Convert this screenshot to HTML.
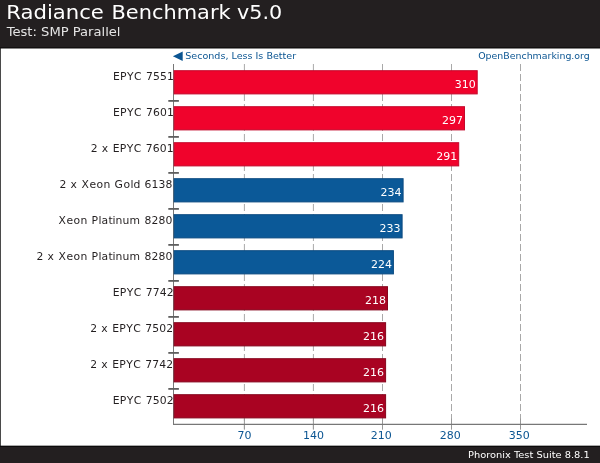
<!DOCTYPE html>
<html><head><meta charset="utf-8"><title>Radiance Benchmark v5.0</title>
<style>
html,body{margin:0;padding:0;background:#fff;}
svg{display:block;font-family:"DejaVu Sans","Liberation Sans",sans-serif;}
</style></head><body>
<svg width="600" height="463" viewBox="0 0 600 463">
<rect x="0" y="0" width="600" height="463" fill="#ffffff"/>
<rect x="0" y="0" width="1" height="463" fill="#4a4a4a"/>
<rect x="0" y="0" width="600" height="48" fill="#231f20"/>
<rect x="0" y="47.3" width="600" height="1.2" fill="#0c0a0b"/>
<rect x="0" y="445.8" width="600" height="17.2" fill="#231f20"/>
<rect x="0" y="445.8" width="600" height="1.2" fill="#0c0a0b"/>
<text y="18.9" font-size="20.2" fill="#ffffff"><tspan x="6.2" textLength="97.7" lengthAdjust="spacingAndGlyphs">Radiance</tspan> <tspan x="111.5" textLength="119.1" lengthAdjust="spacingAndGlyphs">Benchmark</tspan> <tspan x="237" textLength="45.2" lengthAdjust="spacingAndGlyphs">v5.0</tspan></text>
<text x="6.7" y="36" font-size="12.3" fill="#e4e4e4" textLength="113.8" lengthAdjust="spacingAndGlyphs">Test: SMP Parallel</text>
<text x="468" y="458" font-size="9.4" fill="#ffffff" textLength="121.7" lengthAdjust="spacingAndGlyphs">Phoronix Test Suite 8.8.1</text>
<polygon points="172.9,56.2 182.7,51.5 182.7,60.9" fill="#0b5592"/>
<text x="185.2" y="58.8" font-size="9.3" fill="#0b5592" textLength="111" lengthAdjust="spacingAndGlyphs">Seconds, Less Is Better</text>
<text x="478.2" y="58.9" font-size="9.3" fill="#0b5592" textLength="111.6" lengthAdjust="spacingAndGlyphs">OpenBenchmarking.org</text>
<line x1="244.4" y1="64" x2="244.4" y2="429.4" stroke="#a9a9a9" stroke-width="1" stroke-dasharray="7,3"/>
<line x1="244.4" y1="418.5" x2="244.4" y2="429.5" stroke="#999999" stroke-width="1"/>
<text x="237.4" y="438.6" font-size="10.2" fill="#0b5592" textLength="14" lengthAdjust="spacingAndGlyphs">70</text>
<line x1="313.4" y1="64" x2="313.4" y2="429.4" stroke="#a9a9a9" stroke-width="1" stroke-dasharray="7,3"/>
<line x1="313.4" y1="418.5" x2="313.4" y2="429.5" stroke="#999999" stroke-width="1"/>
<text x="302.9" y="438.6" font-size="10.2" fill="#0b5592" textLength="21" lengthAdjust="spacingAndGlyphs">140</text>
<line x1="382.5" y1="64" x2="382.5" y2="429.4" stroke="#a9a9a9" stroke-width="1" stroke-dasharray="7,3"/>
<line x1="382.5" y1="418.5" x2="382.5" y2="429.5" stroke="#999999" stroke-width="1"/>
<text x="370.8" y="438.6" font-size="10.2" fill="#0b5592" textLength="21" lengthAdjust="spacingAndGlyphs">210</text>
<line x1="451.5" y1="64" x2="451.5" y2="429.4" stroke="#a9a9a9" stroke-width="1" stroke-dasharray="7,3"/>
<line x1="451.5" y1="418.5" x2="451.5" y2="429.5" stroke="#999999" stroke-width="1"/>
<text x="439.8" y="438.6" font-size="10.2" fill="#0b5592" textLength="21" lengthAdjust="spacingAndGlyphs">280</text>
<line x1="520.5" y1="64" x2="520.5" y2="429.4" stroke="#a9a9a9" stroke-width="1" stroke-dasharray="7,3"/>
<line x1="520.5" y1="418.5" x2="520.5" y2="429.5" stroke="#999999" stroke-width="1"/>
<text x="508.8" y="438.6" font-size="10.2" fill="#0b5592" textLength="21" lengthAdjust="spacingAndGlyphs">350</text>
<line x1="173.5" y1="64" x2="173.5" y2="424.5" stroke="#777777" stroke-width="1"/>
<line x1="173" y1="424.4" x2="587" y2="424.4" stroke="#777777" stroke-width="1.2"/>
<rect x="174.1" y="70.7" width="303.1" height="23.2" fill="#F0032C" stroke="#C4092C" stroke-width="1"/>
<text x="113.1 120.1 127.1 134.1 142.1 146.1 153.1 160.1 167.1" y="79.8" font-size="10.8" fill="#231f20">EPYC 7551</text>
<text x="454.7" y="87.6" font-size="10.2" fill="#ffffff" textLength="21" lengthAdjust="spacingAndGlyphs">310</text>
<line x1="168.3" y1="100.9" x2="178.9" y2="100.9" stroke="#5f5f5f" stroke-width="1.8"/>
<rect x="174.1" y="106.7" width="290.4" height="23.2" fill="#F0032C" stroke="#C4092C" stroke-width="1"/>
<text x="113.1 120.1 127.1 134.1 142.1 146.1 153.1 160.1 167.1" y="115.8" font-size="10.8" fill="#231f20">EPYC 7601</text>
<text x="442.0" y="123.6" font-size="10.2" fill="#ffffff" textLength="21" lengthAdjust="spacingAndGlyphs">297</text>
<line x1="168.3" y1="136.9" x2="178.9" y2="136.9" stroke="#5f5f5f" stroke-width="1.8"/>
<rect x="174.1" y="142.7" width="284.6" height="23.2" fill="#F0032C" stroke="#C4092C" stroke-width="1"/>
<text x="90.7 97.7 101.7 108.7 112.7 119.7 126.7 133.7 141.7 145.7 152.7 159.7 166.7" y="151.8" font-size="10.8" fill="#231f20">2 x EPYC 7601</text>
<text x="436.2" y="159.6" font-size="10.2" fill="#ffffff" textLength="21" lengthAdjust="spacingAndGlyphs">291</text>
<line x1="168.3" y1="172.9" x2="178.9" y2="172.9" stroke="#5f5f5f" stroke-width="1.8"/>
<rect x="174.1" y="178.7" width="229.0" height="23.2" fill="#0B5998" stroke="#0A4A80" stroke-width="1"/>
<text x="59.4 66.4 70.4 77.4 81.4 89.4 96.4 103.4 110.4 114.4 123.4 130.4 133.4 140.4 144.4 151.4 158.4 165.4" y="187.8" font-size="10.8" fill="#231f20">2 x Xeon Gold 6138</text>
<text x="380.6" y="195.6" font-size="10.2" fill="#ffffff" textLength="21" lengthAdjust="spacingAndGlyphs">234</text>
<line x1="168.3" y1="208.9" x2="178.9" y2="208.9" stroke="#5f5f5f" stroke-width="1.8"/>
<rect x="174.1" y="214.7" width="228.0" height="23.2" fill="#0B5998" stroke="#0A4A80" stroke-width="1"/>
<text x="58.4 66.4 73.4 80.4 87.4 91.4 98.4 101.4 108.4 112.4 115.4 122.4 129.4 140.4 144.4 151.4 158.4 165.4" y="223.8" font-size="10.8" fill="#231f20">Xeon Platinum 8280</text>
<text x="379.6" y="231.6" font-size="10.2" fill="#ffffff" textLength="21" lengthAdjust="spacingAndGlyphs">233</text>
<line x1="168.3" y1="244.9" x2="178.9" y2="244.9" stroke="#5f5f5f" stroke-width="1.8"/>
<rect x="174.1" y="250.7" width="219.3" height="23.2" fill="#0B5998" stroke="#0A4A80" stroke-width="1"/>
<text x="36.4 43.4 47.4 54.4 58.4 66.4 73.4 80.4 87.4 91.4 98.4 101.4 108.4 112.4 115.4 122.4 129.4 140.4 144.4 151.4 158.4 165.4" y="259.8" font-size="10.8" fill="#231f20">2 x Xeon Platinum 8280</text>
<text x="370.9" y="267.6" font-size="10.2" fill="#ffffff" textLength="21" lengthAdjust="spacingAndGlyphs">224</text>
<line x1="168.3" y1="280.9" x2="178.9" y2="280.9" stroke="#5f5f5f" stroke-width="1.8"/>
<rect x="174.1" y="286.7" width="213.4" height="23.2" fill="#A90322" stroke="#86061D" stroke-width="1"/>
<text x="112.7 119.7 126.7 133.7 141.7 145.7 152.7 159.7 166.7" y="295.8" font-size="10.8" fill="#231f20">EPYC 7742</text>
<text x="365.0" y="303.6" font-size="10.2" fill="#ffffff" textLength="21" lengthAdjust="spacingAndGlyphs">218</text>
<line x1="168.3" y1="316.9" x2="178.9" y2="316.9" stroke="#5f5f5f" stroke-width="1.8"/>
<rect x="174.1" y="322.7" width="211.5" height="23.2" fill="#A90322" stroke="#86061D" stroke-width="1"/>
<text x="90.3 97.3 101.3 108.3 112.3 119.3 126.3 133.3 141.3 145.3 152.3 159.3 166.3" y="331.8" font-size="10.8" fill="#231f20">2 x EPYC 7502</text>
<text x="363.1" y="339.6" font-size="10.2" fill="#ffffff" textLength="21" lengthAdjust="spacingAndGlyphs">216</text>
<line x1="168.3" y1="352.9" x2="178.9" y2="352.9" stroke="#5f5f5f" stroke-width="1.8"/>
<rect x="174.1" y="358.7" width="211.5" height="23.2" fill="#A90322" stroke="#86061D" stroke-width="1"/>
<text x="90.3 97.3 101.3 108.3 112.3 119.3 126.3 133.3 141.3 145.3 152.3 159.3 166.3" y="367.8" font-size="10.8" fill="#231f20">2 x EPYC 7742</text>
<text x="363.1" y="375.6" font-size="10.2" fill="#ffffff" textLength="21" lengthAdjust="spacingAndGlyphs">216</text>
<line x1="168.3" y1="388.9" x2="178.9" y2="388.9" stroke="#5f5f5f" stroke-width="1.8"/>
<rect x="174.1" y="394.7" width="211.5" height="23.2" fill="#A90322" stroke="#86061D" stroke-width="1"/>
<text x="112.7 119.7 126.7 133.7 141.7 145.7 152.7 159.7 166.7" y="403.8" font-size="10.8" fill="#231f20">EPYC 7502</text>
<text x="363.1" y="411.6" font-size="10.2" fill="#ffffff" textLength="21" lengthAdjust="spacingAndGlyphs">216</text>
</svg>
</body></html>
